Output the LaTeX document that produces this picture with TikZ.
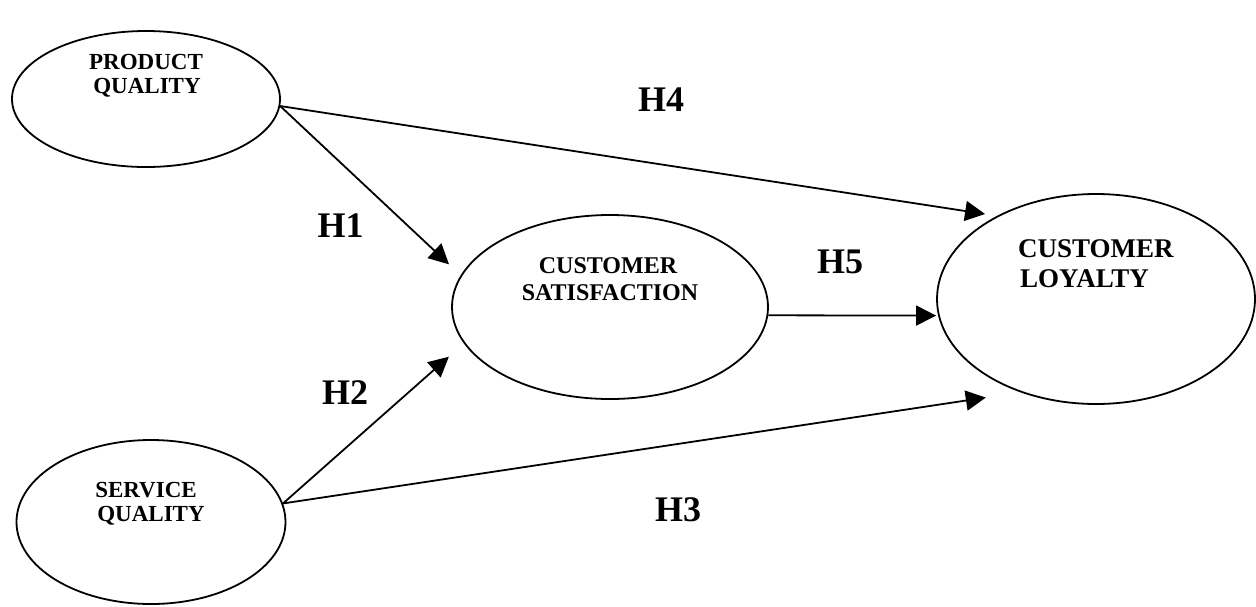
\documentclass[tikz,border=0pt]{standalone}
\usepackage{fontspec}
\setmainfont{Liberation Serif}
\usetikzlibrary{shapes.geometric,arrows.meta}
\begin{document}
\begin{tikzpicture}[x=1pt,y=-1pt,
  construct/.style={draw, ellipse, line width=1.8pt, inner sep=0pt},
  ctext/.style={font=\fontsize{23}{23}\selectfont\bfseries, inner sep=0pt, anchor=base},
  hyp/.style={font=\fontsize{36}{36}\selectfont\bfseries, inner sep=0pt, anchor=base},
  link/.style={line width=1.8pt, -{Triangle[length=20pt,width=20pt]}}]
\useasboundingbox (0,0) rectangle (1256,606);

% constructs
\node[construct, minimum width=268pt, minimum height=136pt] (pq) at (146,99) {};
\node[construct, minimum width=269pt, minimum height=164pt] (sq) at (151,522) {};
\node[construct, minimum width=316pt, minimum height=184pt] (cs) at (610,307) {};
\node[construct, minimum width=318pt, minimum height=210pt] (cl) at (1096,299) {};

% construct names
\node[ctext] (pqa) at (146,69) {PRODUCT};
\node[ctext] (pqb) at (147,93) {QUALITY};
\node[ctext] (sqa) at (146,497) {SERVICE};
\node[ctext] (sqb) at (151,521) {QUALITY};
\node[ctext, font=\fontsize{24}{24}\selectfont\bfseries] (csa) at (608,273) {CUSTOMER};
\node[ctext, font=\fontsize{24}{24}\selectfont\bfseries] (csb) at (610,300) {SATISFACTION};
\node[ctext, anchor=base west, font=\fontsize{27}{27}\selectfont\bfseries] (cla) at (1018,257) {CUSTOMER};
\node[ctext, anchor=base west, font=\fontsize{27}{27}\selectfont\bfseries] (clb) at (1020,287) {LOYALTY};

% hypothesised paths
\draw[link, shorten >=12pt] (pq.-3) -- (cl.140.6);
\draw[link, shorten >=16pt] (pq.-3) -- (cs.168);
\draw[link, shorten >=20pt] (sq.8.5) -- (cs.194.4);
\draw[link, shorten >=35pt] (sq.8.5) -- (cl.231.8);
\draw[link, shorten >=2pt] (cs.-3.3) -- (cl.186);

% hypothesis labels
\node[hyp] (h4) at (661,111) {H4};
\node[hyp] (h1) at (340.5,237) {H1};
\node[hyp] (h2) at (345,404) {H2};
\node[hyp] (h5) at (840,273) {H5};
\node[hyp] (h3) at (678,521) {H3};
\end{tikzpicture}
\end{document}
